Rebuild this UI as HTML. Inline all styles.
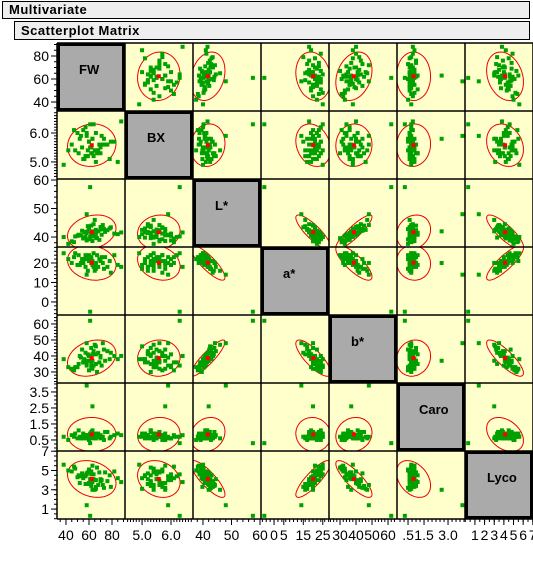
<!DOCTYPE html>
<html><head><meta charset="utf-8"><style>
body{margin:0;background:#fff;width:533px;height:572px;overflow:hidden;font-family:"Liberation Sans",sans-serif}
.bar{position:absolute;background:#eee;border:1px solid #000;font-weight:bold;font-size:13px;padding-left:6px;box-sizing:border-box;letter-spacing:0.5px}
</style></head><body>
<div class="bar" style="left:2px;top:1px;width:528px;height:18px;line-height:16px">Multivariate</div>
<div class="bar" style="left:14px;top:21px;width:516px;height:19px;line-height:17px">Scatterplot Matrix</div>
<svg id="chart" width="533" height="572" style="position:absolute;left:0;top:0" xmlns="http://www.w3.org/2000/svg"></svg>
<script>
const varNames=["FW","BX","L*","a*","b*","Caro","Lyco"];
const FW=[62,55,70,48,66,58,74,52,64,60,68,57,78,45,63,71,54,66,59,82,50,62,69,56,73,61,47,65,58,76,53,67,60,85,64,42,70,57,63,72,51,66,59,79,55,62,38,88,61,58,63];
const BX=[5.5,6.1,5.3,5.4,5.0,6.0,5.6,5.8,5.2,5.7,5.4,6.2,5.1,5.6,5.3,5.9,5.5,5.4,5.2,5.7,6.0,5.3,5.6,5.1,5.8,5.5,6.1,5.4,5.2,5.6,5.9,5.3,5.7,5.0,6.3,5.4,5.5,5.2,5.8,5.6,5.3,6.0,5.4,5.7,5.1,5.5,4.9,6.4,6.3,5.9,5.8];
const LSTAR=[41.0,39.5,43.5,40.2,42.5,38.8,41.8,40.6,44.5,39.2,42.0,40.0,43.0,38.5,41.5,40.8,42.2,39.8,43.8,41.2,40.4,44.0,39.0,41.6,42.8,40.0,38.2,46.0,41.4,42.4,40.6,39.6,43.2,41.0,40.2,37.6,42.6,41.8,38.6,44.2,40.8,41.2,42.0,43.4,39.8,40.4,40.0,41.6,57.5,48,42];
const ASTAR=[22,20,21,25,17,22,23,19,18,24,18,24,21,20,19,23,22,20,16,24,19,20,22,22,17,21,23,16,23,18,20,24,21,19,25,22,21,18,21,20,24,19,22,15,20,23,25,18,-5,14,20];
const BSTAR=[35,36,40,33,46,34,37,40,43,31,42,36,38,32,41,34,44,35,41,40,33,45,36,38,44,37,31,47,36,43,39,30,40,38,34,33,39,42,32,48,35,41,37,42,36,33,38,40,62,48,37];
const CARO=[0.7,0.8,0.6,0.9,0.7,0.6,1.0,0.7,0.8,0.5,0.9,0.7,0.6,0.8,1.1,0.7,0.6,0.9,0.7,0.8,0.6,1.0,0.7,0.8,0.5,0.9,0.7,0.6,0.8,1.0,0.6,0.7,0.8,0.9,0.7,0.5,0.8,0.6,0.9,0.7,1.1,0.6,0.8,0.7,0.9,0.6,0.7,0.8,0.3,3.9,2.6];
const LYCO=[4.6,4.2,3.9,5.2,3.1,4.6,4.8,3.7,4.1,5.1,3.5,4.4,4.5,4.9,3.8,4.0,4.7,3.3,3.6,4.9,4.3,3.4,4.8,4.5,3.2,4.1,5.4,3.0,4.7,3.9,4.4,5.3,3.7,4.2,4.6,5.0,4.1,3.6,5.5,3.5,4.5,4.0,4.8,3.3,4.4,4.9,5.6,3.8,0.3,1.4,3.0];
const ranges=[[32.2,91.3],[4.41,6.76],[36.5,60.35],[-6.7,28.2],[23.1,65.6],[-0.19,4.06],[-0.03,7.02]];
const yTickLabels=[[40,60,80],[5.0,6.0],[40,50,60],[0,10,20],[30,40,50,60],[0.5,1.5,2.5,3.5],[1,3,5,7]];
const yTickText=[["40","60","80"],["5.0","6.0"],["40","50","60"],["0","10","20"],["30","40","50","60"],["0.5","1.5","2.5","3.5"],["1","3","5","7"]];
const xTickLabels=[[40,60,80],[5.0,6.0],[40,50,60],[0,5,15,25],[30,40,50,60],[0.5,1.5,3.0],[1,2,3,4,5,6,7]];
const xTickText=[["40","60","80"],["5.0","6.0"],["40","50","60"],["0","5","15","25"],["30","40","50","60"],[".5","1.5","3.0"],["1","2","3","4","5","6","7"]];
const minorStep=[5,0.1,2,2,2,0.25,0.5];
const data=[FW,BX,LSTAR,ASTAR,BSTAR,CARO,LYCO];

const svg=document.getElementById('chart');
const NS="http://www.w3.org/2000/svg";
const X0=57,Y0=43,C=68,N=7;
function mk(tag,attrs,parent){const e=document.createElementNS(NS,tag);for(const k in attrs)e.setAttribute(k,attrs[k]);(parent||svg).appendChild(e);return e;}
function sx(j,v){const r=ranges[j];return X0+j*C+(v-r[0])/(r[1]-r[0])*C;}
function sy(i,v){const r=ranges[i];return Y0+(i+1)*C-(v-r[0])/(r[1]-r[0])*C;}
function mean(a){return a.reduce((s,v)=>s+v,0)/a.length;}

const defs=mk('defs',{});
for(let i=0;i<N;i++)for(let j=0;j<N;j++){
  const cp=mk('clipPath',{id:'c'+i+'_'+j},defs);
  mk('rect',{x:X0+j*C,y:Y0+i*C,width:C,height:C},cp);
}
for(let i=0;i<N;i++)for(let j=0;j<N;j++){
  const x=X0+j*C,y=Y0+i*C;
  if(i===j){
    const r=mk('rect',{x:x+1.5,y:y+1.5,width:C-3,height:C-3,fill:'#aaaaaa',stroke:'#000','stroke-width':3});
    
    
    const t=mk('text',{x:x+22,y:y+31,'font-size':13,'font-weight':'bold',fill:'#000'});
    t.textContent=varNames[i];
    
    
    continue;
  }
  const g=mk('g',{'clip-path':'url(#c'+i+'_'+j+')'});
  
  
  mk('rect',{x:x,y:y,width:C,height:C,fill:'#ffffcc'},g);
  const xs=data[j],ys=data[i];
  const mx=mean(xs),my=mean(ys);
  let sxx=0,syy=0,sxy=0;const n=xs.length;
  for(let k=0;k<n;k++){sxx+=(xs[k]-mx)**2;syy+=(ys[k]-my)**2;sxy+=(xs[k]-mx)*(ys[k]-my);}
  sxx/=n-1;syy/=n-1;sxy/=n-1;
  const k95=2.0,a=Math.sqrt(sxx),b=sxy/a,c=Math.sqrt(Math.max(syy-b*b,1e-12));
  let d='';
  for(let s=0;s<=72;s++){const th=s/72*2*Math.PI,u=Math.cos(th)*k95,w=Math.sin(th)*k95;
    const vx=mx+a*u,vy=my+b*u+c*w;d+=(s?'L':'M')+sx(j,vx).toFixed(1)+','+sy(i,vy).toFixed(1);}
  const el=mk('path',{d:d,fill:'none',stroke:'#ee0000','stroke-width':1},g);
  
  
  for(let k=0;k<n;k++){
    const p=mk('rect',{x:sx(j,xs[k])-2,y:sy(i,ys[k])-2,width:4,height:4,fill:'#00a000'},g);
    
    
  }
  const m=mk('rect',{x:sx(j,mx)-2,y:sy(i,my)-2,width:4,height:4,fill:'#ff0000'},g);
  
  
}
for(let k=0;k<=N;k++){
  mk('line',{x1:X0+k*C,y1:Y0,x2:X0+k*C,y2:Y0+N*C,stroke:'#000','stroke-width':1.5});
  mk('line',{x1:X0,y1:Y0+k*C,x2:X0+N*C,y2:Y0+k*C,stroke:'#000','stroke-width':1.5});
}
for(let i=0;i<N;i++){
  const r=ranges[i],ms=minorStep[i];
  for(let v=Math.ceil(r[0]/ms)*ms;v<=r[1]+1e-9;v+=ms){
    const y=sy(i,v);mk('line',{x1:X0-3,y1:y,x2:X0,y2:y,stroke:'#000'});
    const x=sx(i,v);mk('line',{x1:x,y1:Y0+N*C,x2:x,y2:Y0+N*C+3,stroke:'#000'});
  }
  yTickLabels[i].forEach((v,q)=>{
    const y=sy(i,v);mk('line',{x1:X0-6,y1:y,x2:X0,y2:y,stroke:'#000'});
    const t=mk('text',{x:X0-8,y:y+5,'font-size':14,'text-anchor':'end',fill:'#000'});
    t.textContent=yTickText[i][q];
    
    
  });
  xTickLabels[i].forEach((v,q)=>{
    const x=sx(i,v);mk('line',{x1:x,y1:Y0+N*C,x2:x,y2:Y0+N*C+6,stroke:'#000'});
    const t=mk('text',{x:x,y:Y0+N*C+21,'font-size':14,'text-anchor':'middle',fill:'#000'});
    t.textContent=xTickText[i][q];
    
    
  });
}
</script>
</body></html>
